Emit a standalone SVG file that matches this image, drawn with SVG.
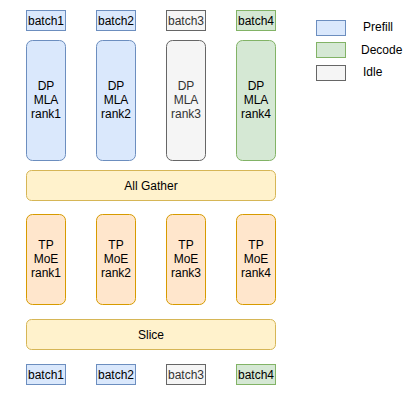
<svg xmlns="http://www.w3.org/2000/svg" width="412" height="403" viewBox="0 0 412 403">
<style>
text{font-family:"Liberation Sans",Arial,Helvetica,sans-serif;font-size:12px;fill:#000;text-anchor:middle}
.pre{fill:#dae8fc;stroke:#6c8ebf}
.dec{fill:#d5e8d4;stroke:#82b366}
.idl{fill:#f5f5f5;stroke:#666666}
.yel{fill:#fff2cc;stroke:#d6b656}
.org{fill:#ffe6cc;stroke:#d79b00}
.gt{fill:#333333}
.lg{text-anchor:start}
</style>
<rect width="412" height="403" fill="#fff"/>
<g id="connectors"/>
<g id="batch1-top"><rect class="pre" x="26.5" y="10.5" width="39" height="20"/><text x="46" y="25">batch1</text></g>
<g id="batch2-top"><rect class="pre" x="96.5" y="10.5" width="39" height="20"/><text x="116" y="25">batch2</text></g>
<g id="batch3-top"><rect class="idl" x="166.5" y="10.5" width="39" height="20"/><text class="gt" x="186" y="25">batch3</text></g>
<g id="batch4-top"><rect class="dec" x="236.5" y="10.5" width="39" height="20"/><text x="256" y="25">batch4</text></g>
<g id="mla1"><rect class="pre" x="26.5" y="40.5" width="39" height="120" rx="6"/><text x="46" y="90">DP</text><text x="46" y="104">MLA</text><text x="46" y="118">rank1</text></g>
<g id="mla2"><rect class="pre" x="96.5" y="40.5" width="39" height="120" rx="6"/><text x="116" y="90">DP</text><text x="116" y="104">MLA</text><text x="116" y="118">rank2</text></g>
<g id="mla3"><rect class="idl" x="166.5" y="40.5" width="39" height="120" rx="6"/><text class="gt" x="186" y="90">DP</text><text class="gt" x="186" y="104">MLA</text><text class="gt" x="186" y="118">rank3</text></g>
<g id="mla4"><rect class="dec" x="236.5" y="40.5" width="39" height="120" rx="6"/><text x="256" y="90">DP</text><text x="256" y="104">MLA</text><text x="256" y="118">rank4</text></g>
<g id="allgather"><rect class="yel" x="26.5" y="170.5" width="249" height="30" rx="5"/><text x="151" y="190">All Gather</text></g>
<g id="moe1"><rect class="org" x="26.5" y="214.5" width="39" height="90" rx="6"/><text x="46" y="249">TP</text><text x="46" y="263">MoE</text><text x="46" y="277">rank1</text></g>
<g id="moe2"><rect class="org" x="96.5" y="214.5" width="39" height="90" rx="6"/><text x="116" y="249">TP</text><text x="116" y="263">MoE</text><text x="116" y="277">rank2</text></g>
<g id="moe3"><rect class="org" x="166.5" y="214.5" width="39" height="90" rx="6"/><text x="186" y="249">TP</text><text x="186" y="263">MoE</text><text x="186" y="277">rank3</text></g>
<g id="moe4"><rect class="org" x="236.5" y="214.5" width="39" height="90" rx="6"/><text x="256" y="249">TP</text><text x="256" y="263">MoE</text><text x="256" y="277">rank4</text></g>
<g id="slice"><rect class="yel" x="26.5" y="319.5" width="249" height="30" rx="5"/><text x="151" y="339">Slice</text></g>
<g id="batch1-bot"><rect class="pre" x="26.5" y="364.5" width="39" height="20"/><text x="46" y="379">batch1</text></g>
<g id="batch2-bot"><rect class="pre" x="96.5" y="364.5" width="39" height="20"/><text x="116" y="379">batch2</text></g>
<g id="batch3-bot"><rect class="idl" x="166.5" y="364.5" width="39" height="20"/><text class="gt" x="186" y="379">batch3</text></g>
<g id="batch4-bot"><rect class="dec" x="236.5" y="364.5" width="39" height="20"/><text x="256" y="379">batch4</text></g>
<g id="legend">
<rect class="pre" x="316.5" y="20.5" width="29" height="15"/><text class="lg" x="363" y="31">Prefill</text>
<rect class="dec" x="316.5" y="42.5" width="29" height="15"/><text class="lg" x="361" y="54">Decode</text>
<rect class="idl" x="316.5" y="65.5" width="29" height="15"/><text class="lg" x="363" y="76">Idle</text>
</g>
</svg>
